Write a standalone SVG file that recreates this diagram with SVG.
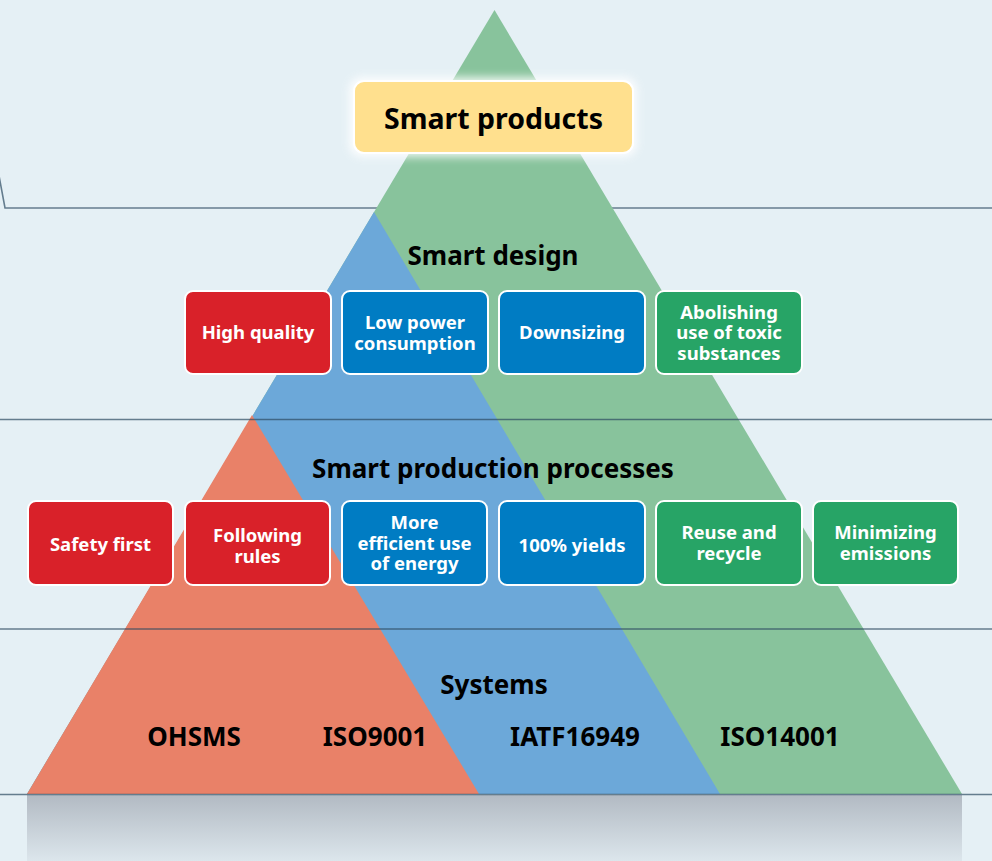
<svg xmlns="http://www.w3.org/2000/svg" width="992" height="861" viewBox="0 0 992 861">
  <defs>
    <linearGradient id="shadowGrad" x1="0" y1="0" x2="0" y2="1">
      <stop offset="0" stop-color="#B2BAC3"/>
      <stop offset="1" stop-color="#DCE6EC"/>
    </linearGradient>
    <filter id="glow" x="-20%" y="-40%" width="140%" height="180%">
      <feGaussianBlur stdDeviation="4"/>
    </filter>
    <style>
      .band { stroke: #2E4B63; stroke-opacity: 0.7; stroke-width: 1.6; fill: none; }
      .head { font-family: "Noto Sans", "Open Sans", sans-serif; font-weight: bold; font-size: 26px; fill: #000; text-anchor: middle; }
      .sys { font-family: "Noto Sans", "Open Sans", sans-serif; font-weight: bold; font-size: 26px; fill: #000; text-anchor: middle; }
      .box { stroke: #FFFFFF; stroke-width: 2; }
      .red { fill: #D92129; }
      .blue { fill: #007CC3; }
      .green { fill: #27A466; }
      .lbl { font-family: "Noto Sans", "Open Sans", sans-serif; font-weight: bold; font-size: 18.5px; fill: #FFFFFF; text-anchor: middle; }
    </style>
  </defs>

  <rect x="0" y="0" width="992" height="861" fill="#E5F0F5"/>

  <!-- back line behind pyramid -->
  <path class="band" d="M -3,165 L 5,208 L 992,208"/>

  <!-- pyramid -->
  <g id="pyramid">
    <polygon points="494.5,10 962,794 27,794" fill="#88C39C"/>
    <polygon points="374,212 720,794 27,794" fill="#6CA8D9"/>
    <polygon points="252,415 479,794 27,794" fill="#E98168"/>
  </g>

  <!-- base shadow -->
  <rect x="27" y="795" width="935" height="66" fill="url(#shadowGrad)"/>

  <!-- horizontal bands over pyramid -->
  <g id="connectors">
    <line class="band" x1="0" y1="419.5" x2="992" y2="419.5"/>
    <line class="band" x1="0" y1="629" x2="992" y2="629"/>
    <line class="band" x1="0" y1="794.5" x2="992" y2="794.5"/>
  </g>

  <!-- Smart products -->
  <g id="smart-products">
    <rect x="349" y="77" width="288" height="80" rx="13" fill="#FFFFFF" opacity="0.85" filter="url(#glow)"/>
    <rect x="354" y="81" width="279" height="72" rx="10" fill="#FFE08E" stroke="#FFFFFF" stroke-width="2"/>
    <text x="493.5" y="129" class="head" style="font-size:28.5px">Smart products</text>
  </g>

  <g id="smart-design">
    <text x="493" y="265" class="head">Smart design</text>
  </g>

  <g id="high-quality">
    <rect class="box red" x="185" y="291" width="146" height="83" rx="8"/>
    <text class="lbl" x="258" y="339">High quality</text>
  </g>
  <g id="low-power">
    <rect class="box blue" x="342" y="291" width="146" height="83" rx="8"/>
    <text class="lbl" x="415" y="329">Low power</text>
    <text class="lbl" x="415" y="349.5">consumption</text>
  </g>
  <g id="downsizing">
    <rect class="box blue" x="499" y="291" width="146" height="83" rx="8"/>
    <text class="lbl" x="572" y="339">Downsizing</text>
  </g>
  <g id="abolishing">
    <rect class="box green" x="656" y="291" width="146" height="83" rx="8"/>
    <text class="lbl" x="729" y="318.5">Abolishing</text>
    <text class="lbl" x="729" y="339">use of toxic</text>
    <text class="lbl" x="729" y="359.5">substances</text>
  </g>

  <g id="smart-production">
    <text x="493" y="478" class="head">Smart production processes</text>
  </g>

  <g id="safety-first">
    <rect class="box red" x="28" y="501" width="145" height="84" rx="8"/>
    <text class="lbl" x="100.5" y="551">Safety first</text>
  </g>
  <g id="following-rules">
    <rect class="box red" x="185" y="501" width="145" height="84" rx="8"/>
    <text class="lbl" x="257.5" y="542">Following</text>
    <text class="lbl" x="257.5" y="562.5">rules</text>
  </g>
  <g id="more-efficient">
    <rect class="box blue" x="342" y="501" width="145" height="84" rx="8"/>
    <text class="lbl" x="414.5" y="529">More</text>
    <text class="lbl" x="414.5" y="549.5">efficient use</text>
    <text class="lbl" x="414.5" y="570">of energy</text>
  </g>
  <g id="yields">
    <rect class="box blue" x="499" y="501" width="146" height="84" rx="8"/>
    <text class="lbl" x="572" y="552">100% yields</text>
  </g>
  <g id="reuse">
    <rect class="box green" x="656" y="501" width="146" height="84" rx="8"/>
    <text class="lbl" x="729" y="539">Reuse and</text>
    <text class="lbl" x="729" y="559.5">recycle</text>
  </g>
  <g id="minimizing">
    <rect class="box green" x="813" y="501" width="145" height="84" rx="8"/>
    <text class="lbl" x="885.5" y="539">Minimizing</text>
    <text class="lbl" x="885.5" y="559.5">emissions</text>
  </g>

  <g id="systems">
    <text x="494" y="694" class="sys">Systems</text>
  </g>
  <g id="ohsms"><text x="194" y="746" class="sys">OHSMS</text></g>
  <g id="iso9001"><text x="375" y="746" class="sys">ISO9001</text></g>
  <g id="iatf16949"><text x="575" y="746" class="sys">IATF16949</text></g>
  <g id="iso14001"><text x="780" y="746" class="sys">ISO14001</text></g>
</svg>
